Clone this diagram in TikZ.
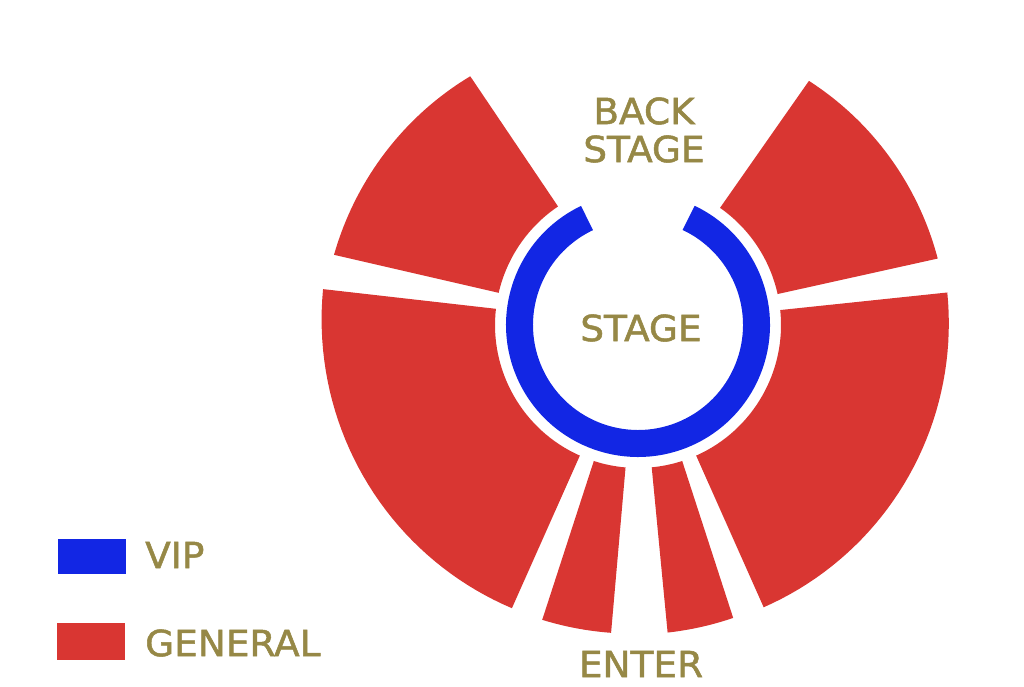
\documentclass[tikz,border=0pt]{standalone}
\usepackage{fontspec}
\usepackage{graphicx}
\setmainfont{DejaVu Sans}[FakeBold=1.4]
\definecolor{seatred}{RGB}{217,54,50}
\definecolor{vipblue}{RGB}{18,38,228}
\definecolor{olive}{RGB}{150,136,70}
\newcommand\wlbl[1]{\scalebox{1.04}[1]{#1}}
\begin{document}
\begin{tikzpicture}[x=1pt,y=1pt,
  lbl/.style={text=olive, font=\fontsize{36}{40}\selectfont, inner sep=0pt},
  general/.style={fill=seatred},
  vip/.style={draw=vipblue, line width=27pt}]
\useasboundingbox (0,0) rectangle (1024,687);
% center of stage at (638,362)
\begin{scope}[shift={(638,362)}]
  % sectors: start angle, end angle, outer radius at start, outer radius at end
  \foreach \a/\b/\ra/\rb in {124/167/300/312, 173.5/246/317/310, 252/265/310/309,
                              275.5/288/309/308, 294/366/309/311, 12.5/55/307/298}{
    \fill[general] (\a:143pt) arc[start angle=\a, end angle=\b, radius=143pt]
      -- plot[domain=\b:\a, samples=40] (\x:{\ra+(\rb-\ra)*(\x-\a)/(\b-\a)}) -- cycle;
  }
  % VIP ring
  \draw[vip] (115.5:118.5pt) arc[start angle=115.5, end angle=424.7, radius=118.5pt];
  \node[lbl] (stage) at (3,-3) {\wlbl{STAGE}};
\end{scope}
\node[lbl, align=center] (back) at (644,557) {\wlbl{BACK}\\[-2pt]\wlbl{STAGE}};
\node[lbl] (enter) at (641,23) {\wlbl{ENTER}};
% legend
\fill[vipblue] (58,113) rectangle (126,148);
\fill[general] (57,27) rectangle (125,64);
\node[lbl, anchor=west] (vipt) at (145,132) {\wlbl{VIP}};
\node[lbl, anchor=west] (gent) at (145,44) {\wlbl{GENERAL}};
\end{tikzpicture}
\end{document}
